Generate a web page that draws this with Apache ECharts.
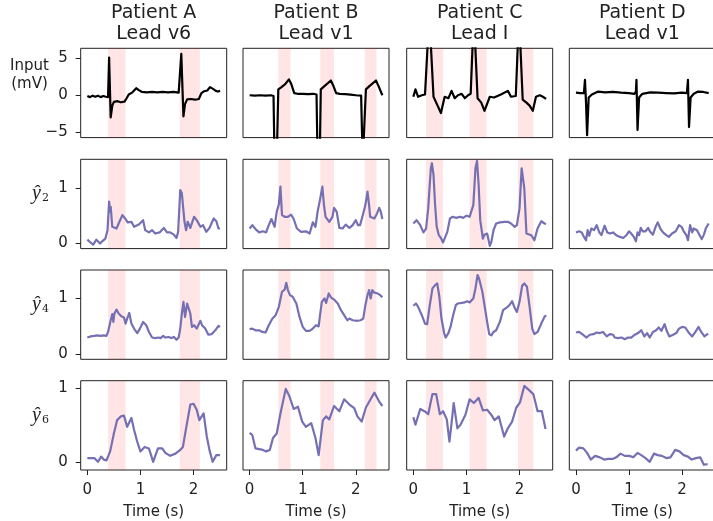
<!DOCTYPE html>
<html><head><meta charset="utf-8">
<script src="https://cdn.jsdelivr.net/npm/echarts@6/dist/echarts.min.js"></script>
<style>html,body{margin:0;padding:0;background:#fff}#c{width:713px;height:521px}</style>
</head><body><div id="c"></div>
<script>
// ---------------- data ----------------
const patients = ['Patient A', 'Patient B', 'Patient C', 'Patient D'];
const leads = ['Lead v6', 'Lead v1', 'Lead I', 'Lead v1'];
const rowNames = ['Input', '2', '4', '6'];
const timeTicks = [0, 1, 2];
const inputTicks = [-5, 0, 5];
const outputTicks = [0, 1];

const bandsA = [[0.39, 0.72], [1.74, 2.12]];
const bandsB = [[0.54, 0.77], [1.33, 1.59], [2.17, 2.39]];
const bandsC = [[0.24, 0.56], [1.06, 1.38], [1.97, 2.26]];
const bandsD = [];

const inputA = [[0,-0.1],[0.05,-0.25],[0.1,-0.05],[0.15,-0.2],[0.2,-0.05],[0.25,-0.25],[0.3,-0.1],[0.35,-0.2],[0.39,-0.25],[0.41,5.1],[0.44,-3.0],[0.47,-1.4],[0.5,-0.9],[0.57,-0.8],[0.63,-0.95],[0.7,-0.85],[0.74,-0.4],[0.78,0.1],[0.85,0.4],[0.92,0.95],[0.97,0.7],[1.03,0.45],[1.12,0.4],[1.22,0.45],[1.32,0.4],[1.42,0.45],[1.52,0.4],[1.62,0.45],[1.72,0.35],[1.75,0.3],[1.77,5.6],[1.81,-2.85],[1.84,-1.2],[1.88,-0.55],[1.95,-0.5],[2.03,-0.6],[2.1,-0.5],[2.15,0.3],[2.2,0.55],[2.26,0.65],[2.31,1.1],[2.36,0.9],[2.42,0.6],[2.46,0.5],[2.5,0.6]];
const inputB = [[0,0],[0.1,-0.05],[0.2,0],[0.3,-0.05],[0.4,0],[0.45,-0.1],[0.47,-9],[0.51,-9],[0.54,0.8],[0.6,1.1],[0.67,1.5],[0.74,2.15],[0.78,1.6],[0.84,0.3],[0.9,0.2],[1.0,0.2],[1.1,0.15],[1.2,0.2],[1.26,0.1],[1.28,-9],[1.32,-9],[1.34,0.8],[1.42,1.3],[1.53,2.0],[1.57,1.4],[1.63,0.3],[1.7,0.2],[1.8,0.15],[1.9,0.1],[2.0,0],[2.1,-0.05],[2.13,-9],[2.16,-9],[2.19,0.8],[2.25,1.2],[2.3,1.5],[2.38,2.0],[2.43,1.2],[2.5,0.0]];
const inputC = [[0,-0.2],[0.04,0.8],[0.09,-0.2],[0.16,0.0],[0.22,0.1],[0.3,11],[0.38,-0.2],[0.45,-1.3],[0.52,-2.4],[0.59,-0.2],[0.66,-0.4],[0.72,0.6],[0.78,-0.4],[0.84,0.0],[0.91,0.2],[0.97,-0.4],[1.03,0.0],[1.08,0.2],[1.14,11],[1.21,-0.4],[1.28,-1.0],[1.34,-2.1],[1.44,-0.2],[1.52,-0.3],[1.65,0.1],[1.78,0.6],[1.84,-0.2],[1.93,-0.1],[1.99,11],[2.06,-0.6],[2.13,-1.0],[2.19,-1.4],[2.25,-2.1],[2.31,-0.2],[2.38,0.0],[2.44,-0.2],[2.5,-0.5]];
const inputD = [[0,0.35],[0.08,0.3],[0.15,0.3],[0.17,2.1],[0.19,-1],[0.21,-5.4],[0.24,-0.3],[0.3,0.1],[0.42,0.5],[0.55,0.4],[0.7,0.45],[0.85,0.35],[1.0,0.3],[1.1,0.2],[1.13,0.5],[1.14,2.1],[1.16,-4.7],[1.19,-0.3],[1.25,0.2],[1.4,0.4],[1.55,0.35],[1.7,0.3],[1.85,0.25],[2.0,0.35],[2.09,0.3],[2.11,2.1],[2.13,-4.3],[2.16,-0.3],[2.22,0.2],[2.3,0.5],[2.4,0.45],[2.5,0.3]];

const y2A = [[0,0.07],[0.06,0.02],[0.11,-0.02],[0.17,0.07],[0.2,0.07],[0.24,0.0],[0.28,0.04],[0.34,0.09],[0.38,0.24],[0.41,0.75],[0.43,0.57],[0.44,0.66],[0.47,0.3],[0.5,0.33],[0.55,0.27],[0.59,0.36],[0.66,0.51],[0.72,0.44],[0.76,0.38],[0.83,0.39],[0.88,0.3],[0.97,0.34],[1.05,0.42],[1.09,0.24],[1.16,0.2],[1.22,0.24],[1.28,0.18],[1.36,0.2],[1.44,0.28],[1.5,0.2],[1.56,0.2],[1.63,0.16],[1.68,0.1],[1.71,0.21],[1.75,0.96],[1.78,0.9],[1.8,0.93],[1.83,0.39],[1.86,0.24],[1.89,0.39],[1.94,0.28],[2.01,0.48],[2.06,0.42],[2.13,0.3],[2.18,0.33],[2.24,0.21],[2.3,0.28],[2.38,0.45],[2.43,0.4],[2.47,0.27],[2.5,0.27]];
const y2B = [[0,0.27],[0.05,0.33],[0.11,0.26],[0.18,0.2],[0.25,0.22],[0.31,0.2],[0.36,0.33],[0.41,0.44],[0.47,0.3],[0.51,0.57],[0.55,0.7],[0.58,1.02],[0.61,0.51],[0.66,0.48],[0.72,0.48],[0.78,0.52],[0.83,0.44],[0.89,0.27],[0.97,0.21],[1.06,0.22],[1.13,0.18],[1.19,0.38],[1.24,0.3],[1.28,0.57],[1.33,0.81],[1.37,1.02],[1.4,0.69],[1.43,0.48],[1.5,0.39],[1.56,0.48],[1.59,0.64],[1.64,0.57],[1.69,0.28],[1.75,0.27],[1.81,0.34],[1.88,0.28],[1.94,0.33],[2.0,0.42],[2.04,0.33],[2.08,0.33],[2.14,0.54],[2.18,0.69],[2.22,0.93],[2.25,0.69],[2.27,0.48],[2.35,0.45],[2.4,0.54],[2.44,0.64],[2.47,0.57],[2.5,0.44]];
const y2C = [[0,0.36],[0.06,0.42],[0.13,0.33],[0.19,0.2],[0.24,0.27],[0.28,0.63],[0.33,1.35],[0.35,1.44],[0.38,1.23],[0.41,0.69],[0.44,0.3],[0.48,0.15],[0.52,0.1],[0.56,0.02],[0.59,0.0],[0.64,0.21],[0.69,0.45],[0.74,0.48],[0.81,0.46],[0.88,0.48],[0.94,0.46],[1.0,0.5],[1.06,0.48],[1.13,0.69],[1.17,1.35],[1.2,1.48],[1.23,1.05],[1.26,0.42],[1.31,0.09],[1.34,0.16],[1.39,0.18],[1.44,-0.04],[1.47,0.03],[1.51,0.24],[1.56,0.36],[1.63,0.38],[1.72,0.39],[1.78,0.39],[1.84,0.36],[1.91,0.3],[1.95,0.33],[2.0,0.63],[2.04,1.35],[2.06,1.38],[2.09,0.99],[2.13,0.18],[2.16,0.18],[2.22,0.15],[2.28,0.06],[2.34,0.27],[2.41,0.4],[2.47,0.36],[2.5,0.35]];
const y2D = [[0,0.2],[0.06,0.22],[0.11,0.2],[0.15,0.12],[0.19,0.06],[0.22,0.24],[0.25,0.14],[0.29,0.27],[0.34,0.24],[0.39,0.33],[0.44,0.2],[0.48,0.15],[0.54,0.32],[0.59,0.2],[0.64,0.18],[0.7,0.2],[0.76,0.15],[0.83,0.12],[0.89,0.1],[0.95,0.15],[1.0,0.22],[1.04,0.18],[1.09,0.12],[1.13,0.04],[1.16,0.2],[1.19,0.15],[1.22,0.28],[1.26,0.22],[1.31,0.22],[1.36,0.28],[1.4,0.21],[1.45,0.16],[1.5,0.3],[1.54,0.38],[1.59,0.27],[1.64,0.2],[1.69,0.16],[1.75,0.12],[1.81,0.18],[1.88,0.22],[1.94,0.33],[1.99,0.3],[2.03,0.22],[2.08,0.15],[2.11,0.06],[2.15,0.33],[2.19,0.2],[2.22,0.27],[2.28,0.24],[2.33,0.15],[2.37,0.08],[2.41,0.16],[2.45,0.28],[2.5,0.36]];

const y4A = [[0,0.3],[0.06,0.32],[0.13,0.33],[0.19,0.34],[0.25,0.33],[0.31,0.34],[0.36,0.33],[0.39,0.4],[0.44,0.61],[0.47,0.72],[0.49,0.58],[0.51,0.73],[0.55,0.8],[0.59,0.73],[0.64,0.68],[0.69,0.66],[0.72,0.55],[0.75,0.64],[0.79,0.74],[0.83,0.55],[0.88,0.46],[0.94,0.38],[0.99,0.46],[1.05,0.58],[1.11,0.52],[1.16,0.4],[1.22,0.3],[1.28,0.29],[1.34,0.3],[1.38,0.29],[1.43,0.33],[1.47,0.3],[1.53,0.31],[1.58,0.29],[1.63,0.31],[1.68,0.26],[1.72,0.3],[1.75,0.46],[1.78,0.73],[1.81,0.94],[1.84,0.67],[1.88,0.91],[1.91,0.94],[1.94,0.73],[1.97,0.49],[2.01,0.52],[2.06,0.46],[2.09,0.52],[2.13,0.6],[2.16,0.52],[2.22,0.46],[2.28,0.35],[2.34,0.36],[2.41,0.43],[2.47,0.51],[2.5,0.49]];
const y4B = [[0,0.45],[0.05,0.46],[0.11,0.43],[0.18,0.43],[0.24,0.4],[0.3,0.39],[0.36,0.52],[0.43,0.64],[0.49,0.7],[0.55,0.85],[0.61,1.12],[0.66,1.16],[0.69,1.28],[0.72,1.15],[0.76,1.06],[0.81,1.03],[0.88,0.91],[0.94,0.67],[1.0,0.49],[1.06,0.42],[1.13,0.42],[1.19,0.46],[1.25,0.52],[1.3,0.5],[1.33,0.73],[1.36,0.94],[1.41,1.0],[1.44,0.92],[1.49,1.09],[1.53,1.02],[1.59,0.98],[1.66,0.91],[1.72,0.79],[1.78,0.7],[1.84,0.61],[1.88,0.64],[1.94,0.61],[2.03,0.6],[2.09,0.61],[2.14,0.64],[2.18,0.88],[2.22,1.06],[2.25,1.15],[2.28,1.0],[2.31,1.15],[2.34,1.11],[2.41,1.09],[2.47,1.05],[2.5,1.02]];
const y4C = [[0,0.87],[0.05,0.91],[0.09,0.85],[0.16,0.7],[0.22,0.55],[0.26,0.54],[0.31,0.88],[0.36,1.18],[0.41,1.24],[0.45,1.27],[0.49,1.03],[0.53,0.64],[0.58,0.38],[0.61,0.3],[0.66,0.38],[0.7,0.49],[0.75,0.7],[0.8,0.88],[0.84,0.91],[0.91,0.92],[0.97,0.93],[1.01,0.95],[1.06,0.93],[1.13,1.0],[1.17,1.18],[1.21,1.42],[1.24,1.35],[1.27,1.33],[1.3,1.12],[1.34,0.88],[1.39,0.58],[1.43,0.36],[1.47,0.34],[1.51,0.4],[1.56,0.43],[1.63,0.58],[1.69,0.79],[1.75,0.83],[1.81,0.88],[1.86,0.95],[1.91,0.83],[1.95,0.76],[2.0,0.94],[2.05,1.23],[2.09,1.27],[2.14,1.21],[2.19,0.85],[2.24,0.46],[2.28,0.36],[2.34,0.4],[2.41,0.55],[2.47,0.67],[2.5,0.7]];
const y4D = [[0,0.39],[0.06,0.4],[0.13,0.35],[0.2,0.3],[0.26,0.35],[0.33,0.36],[0.39,0.39],[0.45,0.38],[0.51,0.4],[0.58,0.32],[0.64,0.36],[0.7,0.35],[0.73,0.3],[0.79,0.29],[0.86,0.3],[0.92,0.27],[0.98,0.3],[1.04,0.3],[1.11,0.35],[1.17,0.38],[1.23,0.43],[1.29,0.32],[1.34,0.38],[1.39,0.3],[1.45,0.4],[1.51,0.43],[1.56,0.48],[1.61,0.42],[1.67,0.54],[1.71,0.42],[1.76,0.32],[1.83,0.35],[1.89,0.38],[1.94,0.46],[2.0,0.49],[2.06,0.48],[2.13,0.38],[2.19,0.32],[2.25,0.4],[2.31,0.49],[2.36,0.4],[2.42,0.32],[2.49,0.37]];

const y6A = [[0,0.06],[0.06,0.06],[0.13,0.06],[0.2,0.01],[0.26,0.08],[0.31,0.04],[0.36,0.03],[0.43,0.15],[0.5,0.39],[0.56,0.57],[0.63,0.62],[0.69,0.63],[0.75,0.48],[0.83,0.6],[0.88,0.44],[0.94,0.28],[1.0,0.15],[1.08,0.21],[1.16,0.19],[1.24,0.01],[1.33,0.19],[1.41,0.19],[1.47,0.13],[1.56,0.09],[1.66,0.12],[1.75,0.17],[1.8,0.21],[1.86,0.46],[1.94,0.78],[2.0,0.79],[2.06,0.71],[2.11,0.57],[2.19,0.66],[2.25,0.35],[2.3,0.17],[2.36,0.01],[2.43,0.1],[2.5,0.1]];
const y6B = [[0,0.4],[0.05,0.37],[0.11,0.19],[0.18,0.18],[0.25,0.17],[0.31,0.15],[0.38,0.17],[0.44,0.33],[0.51,0.39],[0.58,0.66],[0.68,0.99],[0.75,0.89],[0.83,0.72],[0.91,0.75],[0.99,0.55],[1.06,0.48],[1.16,0.53],[1.24,0.33],[1.3,0.1],[1.38,0.57],[1.44,0.62],[1.5,0.58],[1.59,0.76],[1.69,0.69],[1.78,0.85],[1.88,0.78],[1.97,0.73],[2.03,0.62],[2.11,0.55],[2.19,0.74],[2.27,0.84],[2.35,0.94],[2.44,0.82],[2.5,0.76]];
const y6C = [[0,0.61],[0.04,0.51],[0.13,0.72],[0.21,0.69],[0.28,0.65],[0.36,0.92],[0.43,0.92],[0.5,0.65],[0.56,0.69],[0.63,0.58],[0.68,0.28],[0.72,0.53],[0.76,0.8],[0.83,0.46],[0.89,0.51],[0.98,0.64],[1.06,0.85],[1.14,0.8],[1.23,0.87],[1.31,0.7],[1.39,0.71],[1.47,0.64],[1.53,0.57],[1.61,0.62],[1.71,0.35],[1.78,0.46],[1.86,0.55],[1.94,0.74],[2.01,0.81],[2.09,1.03],[2.17,0.98],[2.26,0.92],[2.34,0.69],[2.42,0.69],[2.49,0.45]];
const y6D = [[0,0.16],[0.06,0.2],[0.14,0.19],[0.21,0.13],[0.28,0.04],[0.36,0.09],[0.45,0.07],[0.53,0.04],[0.61,0.05],[0.7,0.05],[0.76,0.07],[0.84,0.12],[0.92,0.09],[1.01,0.09],[1.08,0.07],[1.16,0.13],[1.23,0.1],[1.31,0.06],[1.39,0.01],[1.47,0.12],[1.54,0.1],[1.62,0.09],[1.7,0.06],[1.78,0.07],[1.87,0.17],[1.95,0.15],[2.03,0.1],[2.11,0.08],[2.18,0.04],[2.26,0.06],[2.34,0.07],[2.41,-0.03],[2.48,-0.02]];

// ---------------- layout / style ----------------
const panelData = [
  [inputA, inputB, inputC, inputD],
  [y2A, y2B, y2C, y2D],
  [y4A, y4B, y4C, y4D],
  [y6A, y6B, y6C, y6D]
];
const bands = [bandsA, bandsB, bandsC, bandsD];
const colLeft = [80.7, 243, 406.7, 569.3];
const rowTop = [48.3, 159.3, 270, 380.7];
const W = 146, H = 89.3;
const yRange = [[-5.73, 6.36], [-0.09, 1.51], [-0.09, 1.51], [-0.1, 1.1]];
const FONT = 'DejaVu Sans';
const INK = '#222';
const PURPLE = '#7570b3';
const fmt = v => (v < 0 ? '\u2212' + Math.abs(v) : String(v));

const grid = [], xAxis = [], yAxis = [], series = [];
for (let r = 0; r < 4; r++) {
  for (let c = 0; c < 4; c++) {
    const i = r * 4 + c;
    grid.push({left: colLeft[c], top: rowTop[r], width: W, height: H, show: true,
      borderColor: INK, borderWidth: 1, backgroundColor: 'rgba(0,0,0,0)',
      containLabel: false, outerBoundsMode: 'none'});
    const bottom = r === 3;
    xAxis.push({gridIndex: i, type: 'value', min: -0.125, max: 2.625,
      splitLine: {show: false},
      axisLine: {show: false, onZero: false},
      axisTick: {show: bottom, customValues: timeTicks, length: 5, lineStyle: {color: INK, width: 1}},
      axisLabel: {show: bottom, customValues: timeTicks, margin: 13, fontSize: 15, fontFamily: FONT, color: INK, formatter: fmt},
      name: bottom ? 'Time (s)' : '', nameLocation: 'middle', nameGap: 35,
      nameTextStyle: {fontSize: 15, fontFamily: FONT, color: INK}});
    const ticks = r === 0 ? inputTicks : outputTicks;
    yAxis.push({gridIndex: i, type: 'value', min: yRange[r][0], max: yRange[r][1],
      splitLine: {show: false},
      axisLine: {show: false, onZero: false},
      axisTick: {show: c === 0, customValues: ticks, length: 5, lineStyle: {color: INK, width: 1}},
      axisLabel: {show: c === 0, customValues: ticks, margin: 13, fontSize: 15, fontFamily: FONT, color: INK, formatter: fmt}});
    const s = {type: 'line', xAxisIndex: i, yAxisIndex: i, data: panelData[r][c],
      showSymbol: false, symbol: 'none', clip: true, animation: false, silent: true,
      lineStyle: {width: 2.2, color: r === 0 ? '#000' : PURPLE, join: 'round'}, z: 3};
    if (bands[c].length) {
      s.markArea = {silent: true, itemStyle: {color: 'rgba(255,0,0,0.1)'},
        data: bands[c].map(b => [{xAxis: b[0]}, {xAxis: b[1]}])};
    }
    series.push(s);
  }
}

const graphic = [];
for (let c = 0; c < 4; c++) {
  const cx = colLeft[c] + W / 2;
  graphic.push({type: 'text', x: cx, y: 12.6, style: {text: patients[c], fill: INK, fontSize: 19, fontFamily: FONT,
    align: 'center', verticalAlign: 'middle', textAlign: 'center', textVerticalAlign: 'middle'}});
  graphic.push({type: 'text', x: cx, y: 34.3, style: {text: leads[c], fill: INK, fontSize: 19, fontFamily: FONT,
    align: 'center', verticalAlign: 'middle', textAlign: 'center', textVerticalAlign: 'middle'}});
}
graphic.push({type: 'text', x: 29.5, y: 66.5, style: {text: 'Input', fill: INK, fontSize: 15, fontFamily: FONT,
  align: 'center', verticalAlign: 'middle', textAlign: 'center', textVerticalAlign: 'middle'}});
graphic.push({type: 'text', x: 29.5, y: 84.5, style: {text: '(mV)', fill: INK, fontSize: 15, fontFamily: FONT,
  align: 'center', verticalAlign: 'middle', textAlign: 'center', textVerticalAlign: 'middle'}});
for (let r = 1; r < 4; r++) {
  const cy = rowTop[r] + H / 2;
  graphic.push({type: 'text', x: 36.5, y: cy - 10, style: {text: '\u0177', fill: INK, fontSize: 20,
    fontFamily: 'Liberation Serif', fontStyle: 'italic',
    align: 'center', verticalAlign: 'middle', textAlign: 'center', textVerticalAlign: 'middle'}});
  graphic.push({type: 'text', x: 42, y: cy - 5.5, style: {text: rowNames[r], fill: INK, fontSize: 11,
    fontFamily: 'DejaVu Serif',
    align: 'left', verticalAlign: 'middle', textAlign: 'left', textVerticalAlign: 'middle'}});
}

const chart = echarts.init(document.getElementById('c'), null, {renderer: 'canvas'});
chart.setOption({animation: false, backgroundColor: '#fff', grid, xAxis, yAxis, series, graphic});
</script>
</body></html>
